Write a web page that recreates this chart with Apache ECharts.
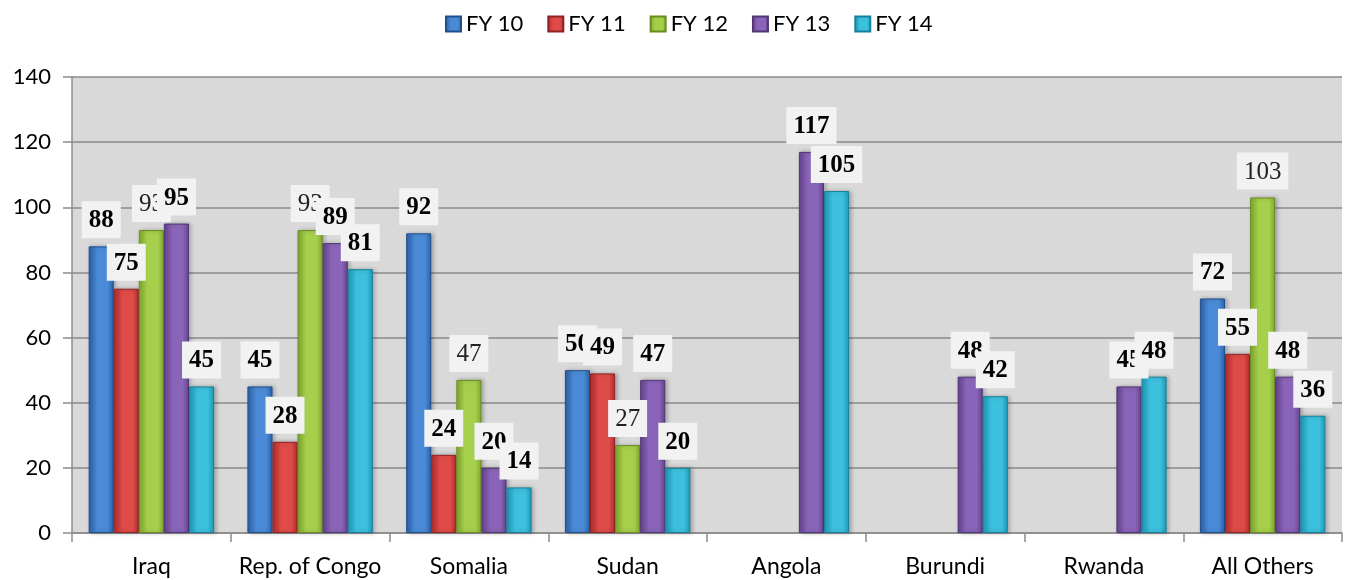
<!DOCTYPE html>
<html>
<head>
<meta charset="utf-8">
<script src="https://cdn.jsdelivr.net/npm/echarts@6/dist/echarts.min.js"></script>
<style>
  html, body { margin: 0; padding: 0; background: #fff; }
  #chart { width: 1347px; height: 580px; }
</style>
</head>
<body>
<div id="chart"></div>
<script>
// categories and yearly values (null = no bar)
var countries = ["Iraq", "Rep. of Congo", "Somalia", "Sudan", "Angola", "Burundi", "Rwanda", "All Others"];
var fy10 = [88, 45, 92, 50, null, null, null, 72];
var fy11 = [75, 28, 24, 49, null, null, null, 55];
var fy12 = [93, 93, 47, 27, null, null, null, 103];
var fy13 = [95, 89, 20, 47, 117, 48, 45, 48];
var fy14 = [45, 81, 14, 20, 105, 42, 48, 36];
var seriesNames = ["FY 10", "FY 11", "FY 12", "FY 13", "FY 14"];
var yTicks = [0, 20, 40, 60, 80, 100, 120, 140];

// [dark edge, light middle, border]
var palette = [
  ["#2d62a8", "#4a8ad6", "#1f4f8f"],
  ["#b32e2e", "#de4b48", "#8f2222"],
  ["#82ab2f", "#a6cf4c", "#6a8c22"],
  ["#654590", "#8a64b8", "#4f3674"],
  ["#1f9ab8", "#3cc0dd", "#17809a"]
];

function barFill(c) {
  return new echarts.graphic.LinearGradient(0, 0, 1, 0, [
    { offset: 0, color: c[0] },
    { offset: 0.35, color: c[1] },
    { offset: 0.75, color: c[1] },
    { offset: 1, color: c[0] }
  ]);
}

function makeSeries(name, values, idx) {
  return {
    name: name,
    type: "bar",
    data: values,
    barGap: "0%",
    barCategoryGap: "21%",
    itemStyle: {
      color: barFill(palette[idx]),
      borderColor: palette[idx][2],
      borderWidth: 1,
      shadowBlur: 4,
      shadowOffsetX: 2,
      shadowColor: "rgba(0,0,0,0.25)"
    },
    label: {
      show: true,
      position: "top",
      distance: 8,
      fontFamily: "Liberation Serif",
      fontSize: 25,
      fontWeight: idx === 2 ? "normal" : "bold",
      color: idx === 2 ? "#222" : "#000",
      backgroundColor: "#f2f2f2",
      padding: [7, 7, 5, 7]
    }
  };
}

var chart = echarts.init(document.getElementById("chart"));
var allSeries = [fy10, fy11, fy12, fy13, fy14];
var option = {
  animation: false,
  legend: {
    top: 8,
    left: 440,
    itemWidth: 15,
    itemHeight: 15,
    itemGap: 24,
    icon: "rect",
    textStyle: { fontFamily: "Lato", fontSize: 22, color: "#000" },
    data: seriesNames
  },
  grid: {
    left: 72, right: 5, top: 77, bottom: 47,
    show: true,
    backgroundColor: "#d9d9d9",
    borderWidth: 0
  },
  xAxis: {
    type: "category",
    data: countries,
    axisLine: { lineStyle: { color: "#8c8c8c", width: 1.5 } },
    axisTick: { show: true, length: 9, lineStyle: { color: "#8c8c8c", width: 1.5 } },
    axisLabel: { interval: 0, fontFamily: "Lato", fontSize: 23, color: "#000", margin: 22 }
  },
  yAxis: {
    type: "value",
    min: yTicks[0],
    max: yTicks[yTicks.length - 1],
    interval: 20,
    axisLine: { show: true, lineStyle: { color: "#8c8c8c", width: 1.5 } },
    axisTick: { show: true, length: 9, lineStyle: { color: "#8c8c8c", width: 1.5 } },
    axisLabel: { fontFamily: "Lato", fontSize: 22, color: "#000", margin: 21 },
    splitLine: { lineStyle: { color: "#8a8a8a", width: 1.5 } }
  },
  series: allSeries.map(function (v, i) { return makeSeries(seriesNames[i], v, i); })
};
chart.setOption(option);
</script>
</body>
</html>
